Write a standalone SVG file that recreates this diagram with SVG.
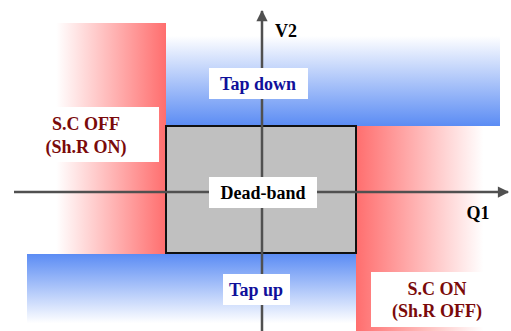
<svg xmlns="http://www.w3.org/2000/svg" width="511" height="331" viewBox="0 0 511 331">
<defs>
<linearGradient id="redL" x1="0" y1="0" x2="1" y2="0"><stop offset="0.15" stop-color="#ffffff"/><stop offset="1" stop-color="#ff6e6e"/></linearGradient>
<linearGradient id="redR" x1="0" y1="0" x2="1" y2="0"><stop offset="0" stop-color="#ff6e6e"/><stop offset="0.85" stop-color="#ffffff"/></linearGradient>
<linearGradient id="blueT" x1="0" y1="0" x2="0" y2="1"><stop offset="0.15" stop-color="#ffffff"/><stop offset="1" stop-color="#5b8cf4"/></linearGradient>
<linearGradient id="blueB" x1="0" y1="0" x2="0" y2="1"><stop offset="0" stop-color="#5b8cf4"/><stop offset="0.9" stop-color="#ffffff"/></linearGradient>
<marker id="arr" viewBox="0 0 10 10" refX="9" refY="5" markerWidth="5" markerHeight="4.5" orient="auto" markerUnits="strokeWidth"><path d="M0,0 L10,5 L0,10 z" fill="#505050"/></marker>
<style>
.lbl{font-family:'Liberation Serif','Times New Roman',serif;font-weight:700;font-size:18px;text-anchor:middle}
.box{fill:#ffffff}
.blue{fill:#10109a}
.red{fill:#7a0a0a}
.blk{fill:#000000}
.axis{stroke:#505050;stroke-width:2.5;fill:none}
</style>
</defs>
<g id="regions">
<rect x="37" y="23" width="129" height="231" fill="url(#redL)"/>
<rect x="166" y="20" width="334" height="106" fill="url(#blueT)"/>
<rect x="27" y="254" width="329" height="77" fill="url(#blueB)"/>
<rect x="356" y="126" width="150" height="205" fill="url(#redR)"/>
</g>
<g id="deadband">
<rect x="166" y="126" width="190" height="127" fill="#c0c0c0" stroke="#111111" stroke-width="2"/>
</g>
<g id="connectors">
<line class="axis" x1="14" y1="192" x2="508" y2="192" marker-end="url(#arr)"/>
<line class="axis" x1="262" y1="331" x2="262" y2="11" marker-end="url(#arr)"/>
</g>
<g id="label-v2"><text class="lbl blk" x="286" y="37" font-family="Liberation Serif, serif">V2</text></g>
<g id="label-q1"><text class="lbl blk" x="478" y="219" font-family="Liberation Serif, serif">Q1</text></g>
<g id="tap-down">
<rect class="box" x="209" y="68" width="99" height="31"/>
<text class="lbl blue" x="258" y="90" font-family="Liberation Serif, serif">Tap down</text>
</g>
<g id="sc-off">
<rect class="box" x="37" y="107" width="122" height="55"/>
<text class="lbl red" x="86" y="130" font-family="Liberation Serif, serif">S.C OFF</text>
<text class="lbl red" x="86" y="153" font-family="Liberation Serif, serif">(Sh.R ON)</text>
</g>
<g id="dead-band-label">
<rect class="box" x="209" y="177" width="108" height="31"/>
<text class="lbl blk" x="263" y="199" font-family="Liberation Serif, serif">Dead-band</text>
</g>
<g id="tap-up">
<rect class="box" x="223" y="274" width="67" height="31"/>
<text class="lbl blue" x="256" y="296" font-family="Liberation Serif, serif">Tap up</text>
</g>
<g id="sc-on">
<rect class="box" x="371" y="272" width="129" height="55"/>
<text class="lbl red" x="437" y="295" font-family="Liberation Serif, serif">S.C ON</text>
<text class="lbl red" x="437" y="317" font-family="Liberation Serif, serif">(Sh.R OFF)</text>
</g>
</svg>
